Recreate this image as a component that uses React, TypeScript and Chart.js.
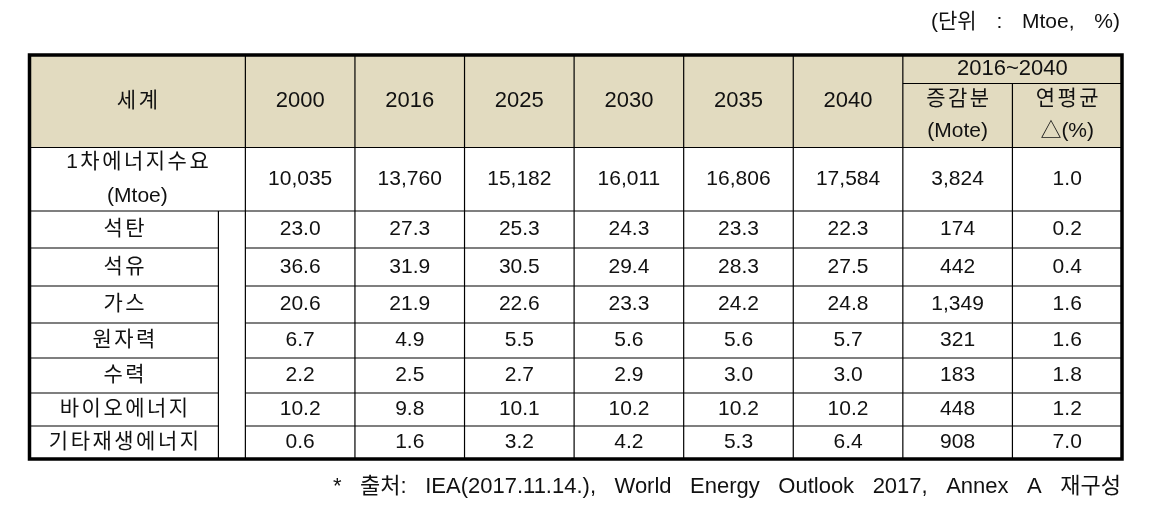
import React, { useEffect, useRef } from 'react';
import { Chart, registerables } from 'chart.js';

Chart.register(...registerables);

// ---------- data ----------
const unitNote = '(단위 : Mtoe, %)';
const sourceNote = '* 출처: IEA(2017.11.14.), World Energy Outlook 2017, Annex A 재구성';
const cornerLabel = '세계';
const years = ['2000', '2016', '2025', '2030', '2035', '2040'];
const periodLabel = '2016~2040';
const increaseLabel = ['증감분', '(Mote)'];
const cagrLabel = ['연평균', '△(%)'];
const totalLabel = ['1차에너지수요', '(Mtoe)'];
const totalDemand = [10035, 13760, 15182, 16011, 16806, 17584];
const totalIncrease = 3824;
const totalCagr = 1.0;
const fuels = ['석탄', '석유', '가스', '원자력', '수력', '바이오에너지', '기타재생에너지'];
const coalShare = [23.0, 27.3, 25.3, 24.3, 23.3, 22.3];
const oilShare = [36.6, 31.9, 30.5, 29.4, 28.3, 27.5];
const gasShare = [20.6, 21.9, 22.6, 23.3, 24.2, 24.8];
const nuclearShare = [6.7, 4.9, 5.5, 5.6, 5.6, 5.7];
const hydroShare = [2.2, 2.5, 2.7, 2.9, 3.0, 3.0];
const bioShare = [10.2, 9.8, 10.1, 10.2, 10.2, 10.2];
const otherRenewShare = [0.6, 1.6, 3.2, 4.2, 5.3, 6.4];
const fuelIncrease = [174, 442, 1349, 321, 183, 448, 908];
const fuelCagr = [0.2, 0.4, 1.6, 1.6, 1.8, 1.2, 7.0];

const fuelShares = [coalShare, oilShare, gasShare, nuclearShare, hydroShare, bioShare, otherRenewShare];

// ---------- layout (column units on x, row units on y) ----------
const LABEL_W = 1.97;
const LABEL_SPLIT = 1.724;
const DATA_COLS = 8;
const TOTAL_W = LABEL_W + DATA_COLS;
const ROW_H = [92.5, 63.5, 37, 38, 37, 35, 35, 33, 33];
const HEADER_SPLIT = 28.5;
const ROW_EDGES = ROW_H.reduce((acc, h) => { acc.push(acc[acc.length - 1] + h); return acc; }, [0] as number[]);
const TOTAL_H = ROW_EDGES[ROW_EDGES.length - 1];

const FONT_FAMILY = "'Liberation Sans', 'Noto Sans CJK KR', sans-serif";
const HEADER_BG = '#E2DBC0';
const INK = '#111111';
const HANGUL = /[\uAC00-\uD7A3]/;

const fmtInt = (v: number) => v.toLocaleString('en-US');
const fmt1 = (v: number) => v.toFixed(1);

const tablePlugin = {
  id: 'tableDraw',
  afterDraw(chart: any) {
    const { ctx } = chart;
    const xs = chart.scales.x;
    const ys = chart.scales.y;
    const X = (v: number) => xs.getPixelForValue(v);
    const Y = (v: number) => ys.getPixelForValue(v);
    const colLeft = (i: number) => LABEL_W + i; // data column i

    ctx.save();
    // header background
    ctx.fillStyle = HEADER_BG;
    ctx.fillRect(X(0), Y(0), X(TOTAL_W) - X(0), Y(ROW_EDGES[1]) - Y(0));

    // inner lines
    ctx.strokeStyle = '#000';
    ctx.lineWidth = 1.2;
    const line = (x0: number, y0: number, x1: number, y1: number) => {
      ctx.beginPath();
      ctx.moveTo(X(x0), Y(y0));
      ctx.lineTo(X(x1), Y(y1));
      ctx.stroke();
    };
    for (let i = 0; i < DATA_COLS; i++) {
      const xv = colLeft(i);
      if (i === 7) line(xv, HEADER_SPLIT, xv, TOTAL_H);
      else line(xv, 0, xv, TOTAL_H);
    }
    line(LABEL_SPLIT, ROW_EDGES[2], LABEL_SPLIT, TOTAL_H);
    line(colLeft(6), HEADER_SPLIT, TOTAL_W, HEADER_SPLIT);
    line(0, ROW_EDGES[1], TOTAL_W, ROW_EDGES[1]);
    line(0, ROW_EDGES[2], TOTAL_W, ROW_EDGES[2]);
    for (let r = 3; r < ROW_EDGES.length - 1; r++) {
      line(0, ROW_EDGES[r], LABEL_SPLIT, ROW_EDGES[r]);
      line(LABEL_W, ROW_EDGES[r], TOTAL_W, ROW_EDGES[r]);
    }
    // outer border
    ctx.lineWidth = 3.5;
    ctx.strokeRect(X(0), Y(0), X(TOTAL_W) - X(0), Y(TOTAL_H) - Y(0));

    // text
    ctx.fillStyle = INK;
    ctx.textAlign = 'center';
    ctx.textBaseline = 'middle';
    const text = (s: string, xv: number, yv: number, size = 21, dy = 0) => {
      ctx.font = `${size}px ${FONT_FAMILY}`;
      const ls = HANGUL.test(s) ? 2.5 : 0;
      (ctx as any).letterSpacing = `${ls}px`;
      ctx.fillText(s, X(xv) + ls / 2, Y(yv) + dy);
      (ctx as any).letterSpacing = '0px';
    };
    const midRow = (r: number) => (ROW_EDGES[r] + ROW_EDGES[r + 1]) / 2;
    const midCol = (i: number) => colLeft(i) + 0.5;

    // header
    text(cornerLabel, LABEL_W / 2, midRow(0), 21);
    years.forEach((yr, i) => text(yr, midCol(i), midRow(0), 22));
    text(periodLabel, colLeft(7), HEADER_SPLIT / 2, 22);
    const subMid = (HEADER_SPLIT + ROW_EDGES[1]) / 2;
    text(increaseLabel[0], midCol(6), subMid, 21, -16);
    text(increaseLabel[1], midCol(6), subMid, 21, 16);
    text(cagrLabel[0], midCol(7), subMid, 21, -16);
    text(cagrLabel[1], midCol(7), subMid, 21, 16);

    // total row
    text(totalLabel[0], LABEL_W / 2, midRow(1), 21, -17);
    text(totalLabel[1], LABEL_W / 2, midRow(1), 21, 17);
    totalDemand.forEach((v, i) => text(fmtInt(v), midCol(i), midRow(1)));
    text(fmtInt(totalIncrease), midCol(6), midRow(1));
    text(fmt1(totalCagr), midCol(7), midRow(1));

    // fuel rows
    fuels.forEach((f, k) => {
      const r = k + 2;
      text(f, LABEL_SPLIT / 2, midRow(r), 21);
      fuelShares[k].forEach((v, i) => text(fmt1(v), midCol(i), midRow(r)));
      text(fmtInt(fuelIncrease[k]), midCol(6), midRow(r));
      text(fmt1(fuelCagr[k]), midCol(7), midRow(r));
    });

    // notes
    const note = (s: string, right: number, cy: number, width: number, size: number) => {
      ctx.font = `${size}px ${FONT_FAMILY}`;
      ctx.textAlign = 'right';
      (ctx as any).letterSpacing = '0px';
      (ctx as any).wordSpacing = '0px';
      const w = ctx.measureText(s).width;
      const n = (s.match(/ /g) || []).length;
      if (n > 0) (ctx as any).wordSpacing = `${Math.max(0, (width - w) / n)}px`;
      ctx.fillText(s, right, cy);
      (ctx as any).wordSpacing = '0px';
    };
    note(unitNote, 1120, 22, 189, 21);
    note(sourceNote, 1121, 487, 788, 22);
    ctx.restore();
  },
};

export default function App() {
  const ref = useRef<HTMLCanvasElement | null>(null);
  useEffect(() => {
    if (!ref.current) return;
    const chart = new Chart(ref.current, {
      type: 'scatter',
      data: { datasets: [] },
      options: {
        animation: false,
        responsive: false,
        devicePixelRatio: 1,
        layout: { padding: { left: 29.5, right: 46, top: 55, bottom: 49 } },
        plugins: { legend: { display: false }, tooltip: { enabled: false } },
        scales: {
          x: { type: 'linear', min: 0, max: TOTAL_W, display: false },
          y: { type: 'linear', min: 0, max: TOTAL_H, reverse: true, display: false },
        },
      },
      plugins: [tablePlugin],
    });
    return () => chart.destroy();
  }, []);
  return (
    <div style={{ position: 'absolute', left: 0, top: 0, width: 1168, height: 508, background: '#fff' }}>
      <canvas ref={ref} width={1168} height={508} style={{ display: 'block' }} />
    </div>
  );
}
